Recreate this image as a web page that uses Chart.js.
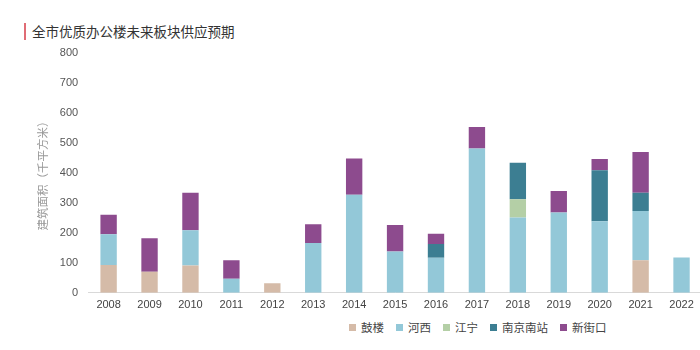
<!DOCTYPE html>
<html>
<head>
<meta charset="utf-8">
<script src="https://cdn.jsdelivr.net/npm/chart.js@4.4.0/dist/chart.umd.min.js"></script>
<style>
  html, body { margin: 0; padding: 0; background: #fff; }
  body { width: 700px; height: 350px; position: relative; overflow: hidden;
         font-family: "Liberation Sans", "Noto Sans CJK SC", sans-serif; }
  #title { position: absolute; left: 24px; top: 23px; padding-left: 6px; border-left: 2px solid #e06c75;
           font-family: "Noto Sans CJK SC", sans-serif; font-size: 13.5px; line-height: 17px; color: #333; }
  #wrap { position: absolute; left: 0; top: 0; width: 702px; height: 318px; }
  #legend { position: absolute; left: 349px; top: 319px; display: flex; gap: 12px;
            font-family: "Noto Sans CJK SC", sans-serif; font-size: 11.5px; color: #444; }
  #legend span.item { display: flex; align-items: center; }
  #legend i { display: inline-block; width: 7px; height: 7px; margin-right: 5px; }
</style>
</head>
<body>
<div id="title">全市优质办公楼未来板块供应预期</div>
<div id="wrap"><canvas id="chart"></canvas></div>
<div id="legend"></div>
<script>
// --- Data (千平方米) ---
const YEARS = ['2008','2009','2010','2011','2012','2013','2014','2015','2016','2017','2018','2019','2020','2021','2022'];
const GULOU      = [93, 70, 91,  0, 32,   0,   0,   0,   0,   0,   0,   0,   0, 109,   0];
const HEXI       = [102, 0, 118, 47, 0, 166, 327, 138, 117, 481, 251, 268, 239, 164, 118];
const JIANGNING  = [0,   0,   0,  0, 0,   0,   0,   0,   0,   0,  61,   0,   0,   0,   0];
const NANJINGNAN = [0,   0,   0,  0, 0,   0,   0,   0,  46,   0, 122,   0, 170,  61,   0];
const XINJIEKOU  = [65, 112, 125, 62, 0,  63, 121,  88,  34,  72,   0,  72,  37, 136,   0];
const Y_TICKS = [0, 100, 200, 300, 400, 500, 600, 700, 800];

const SERIES = [
    { label: '鼓楼', data: GULOU, color: '#d5bba8' },
    { label: '河西', data: HEXI, color: '#93c8d8' },
    { label: '江宁', data: JIANGNING, color: '#b4cfa6' },
    { label: '南京南站', data: NANJINGNAN, color: '#3c7e92' },
    { label: '新街口', data: XINJIEKOU, color: '#8d4b8e' }
];

const TICK_FONT = { family: '"Liberation Sans", Arial, sans-serif', size: 11 };

// --- Legend (HTML) ---
document.getElementById('legend').innerHTML = SERIES.map(s =>
    `<span class="item"><i style="background:${s.color}"></i>${s.label}</span>`).join('');

// --- Chart ---
const ctx = document.getElementById('chart').getContext('2d');
new Chart(ctx, {
    type: 'bar',
    data: {
        labels: YEARS,
        datasets: SERIES.map(s => ({
            label: s.label,
            data: s.data,
            backgroundColor: s.color,
            borderWidth: 0,
            barPercentage: 0.4,
            categoryPercentage: 1
        }))
    },
    options: {
        responsive: true, maintainAspectRatio: false, animation: false,
        layout: { padding: { top: 53, left: 36, right: 0, bottom: 0 } },
        plugins: { legend: { display: false }, tooltip: { enabled: false } },
        scales: {
            x: {
                stacked: true,
                grid: { display: false, drawTicks: false },
                border: { color: '#d9d9d9', width: 1 },
                ticks: { color: '#444', font: TICK_FONT, padding: 6, maxRotation: 0 }
            },
            y: {
                stacked: true,
                min: 0, max: 800,
                afterBuildTicks: axis => { axis.ticks = Y_TICKS.map(v => ({ value: v })); },
                grid: { display: false, drawTicks: false },
                border: { display: false },
                ticks: { color: '#555', font: TICK_FONT, padding: 10 },
                title: {
                    display: true, text: '建筑面积（千平方米）', color: '#999',
                    font: { family: '"Noto Sans CJK SC", sans-serif', size: 11.5 }, padding: 0
                }
            }
        }
    }
});
</script>
</body>
</html>
